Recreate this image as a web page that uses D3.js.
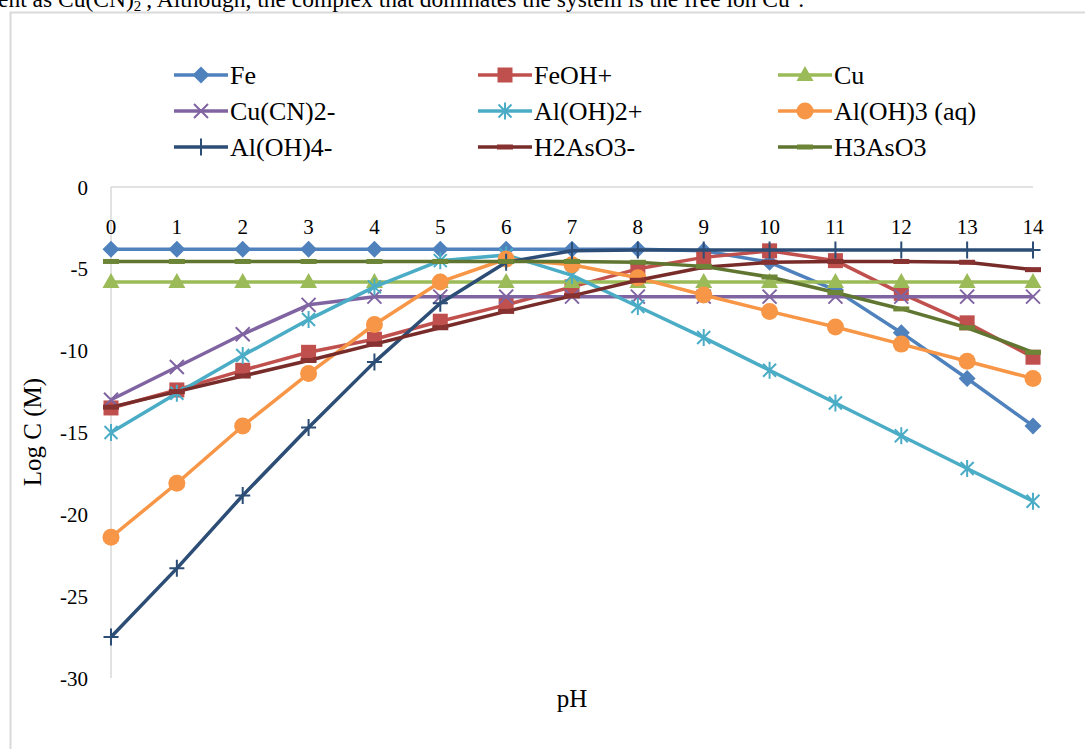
<!DOCTYPE html>
<html>
<head>
<meta charset="utf-8">
<script src="https://cdn.jsdelivr.net/npm/d3@7"></script>
<style>
  html, body { margin: 0; padding: 0; background: #fff; }
  svg { display: block; }
  text { font-family: "Liberation Serif", "Times New Roman", serif; fill: #000; }
</style>
</head>
<body>
<svg id="chart" width="1085" height="749"></svg>
<script>
// ---- data ----
const pH = [0, 1, 2, 3, 4, 5, 6, 7, 8, 9, 10, 11, 12, 13, 14];
const yTicks = [0, -5, -10, -15, -20, -25, -30];

const fe      = [-3.8, -3.8, -3.8, -3.8, -3.8, -3.8, -3.8, -3.8, -3.8, -3.9, -4.6, -6.3, -8.9, -11.7, -14.6];
const feOH    = [-13.5, -12.4, -11.2, -10.1, -9.3, -8.2, -7.2, -6.1, -5.0, -4.3, -3.9, -4.5, -6.5, -8.3, -10.4];
const cu      = [-5.8, -5.8, -5.8, -5.8, -5.8, -5.8, -5.8, -5.8, -5.8, -5.8, -5.8, -5.8, -5.8, -5.8, -5.8];
const cuCN2   = [-13.0, -11.0, -9.0, -7.2, -6.7, -6.7, -6.7, -6.7, -6.7, -6.7, -6.7, -6.7, -6.7, -6.7, -6.7];
const alOH2   = [-15.0, -12.6, -10.3, -8.1, -6.1, -4.5, -4.15, -5.4, -7.3, -9.2, -11.2, -13.2, -15.2, -17.2, -19.2];
const alOH3   = [-21.4, -18.1, -14.6, -11.4, -8.4, -5.8, -4.4, -4.75, -5.55, -6.6, -7.6, -8.55, -9.6, -10.65, -11.7];
const alOH4   = [-27.5, -23.3, -18.85, -14.7, -10.7, -7.1, -4.6, -3.9, -3.85, -3.85, -3.85, -3.85, -3.85, -3.85, -3.85];
const h2AsO3  = [-13.45, -12.5, -11.55, -10.6, -9.6, -8.6, -7.6, -6.65, -5.7, -4.9, -4.6, -4.55, -4.55, -4.6, -5.05];
const h3AsO3  = [-4.55, -4.55, -4.55, -4.55, -4.55, -4.55, -4.55, -4.55, -4.6, -4.85, -5.5, -6.45, -7.45, -8.6, -10.1];

const seriesNames  = ["Fe", "FeOH+", "Cu", "Cu(CN)2-", "Al(OH)2+", "Al(OH)3 (aq)", "Al(OH)4-", "H2AsO3-", "H3AsO3"];
const seriesValues = [fe, feOH, cu, cuCN2, alOH2, alOH3, alOH4, h2AsO3, h3AsO3];
const seriesColors = ["#4F81BD", "#C0504D", "#9BBB59", "#8064A2", "#4BACC6", "#F79646", "#2C4D75", "#772C2A", "#5F7530"];
const seriesMarkers = ["diamond", "square", "triangle", "x", "star", "circle", "plus", "dash", "dash"];

// ---- layout ----
const svg = d3.select("#chart");
const x = d3.scaleLinear().domain([0, 14]).range([111, 1033]);
const y = d3.scaleLinear().domain([-30, 0]).range([678, 187]);

// frame
svg.append("rect")
  .attr("x", 10.5).attr("y", 12.5).attr("width", 1100).attr("height", 800)
  .attr("fill", "none").attr("stroke", "#d9d9d9").attr("stroke-width", 2);

// top clipped text (continuation of the page text above the chart)
const topText = svg.append("text").attr("x", -2).attr("y", 7).style("font-size", "23.5px");
topText.append("tspan").text("ent as Cu(CN)");
topText.append("tspan").attr("dy", 4).style("font-size", "15px").text("2");
topText.append("tspan").attr("dy", -14).style("font-size", "15px").text("-");
topText.append("tspan").attr("dy", 10).text(", Although,  the complex that dominates the system is the free ion Cu");
topText.append("tspan").attr("dy", -10).style("font-size", "15px").text("+");
topText.append("tspan").attr("dy", 10).text(".");

// axes lines
svg.append("line")
  .attr("x1", x(0)).attr("x2", x(14)).attr("y1", y(0)).attr("y2", y(0))
  .attr("stroke", "#d9d9d9").attr("stroke-width", 1.5);
svg.append("line")
  .attr("x1", x(0)).attr("x2", x(0)).attr("y1", y(0)).attr("y2", y(-30))
  .attr("stroke", "#d9d9d9").attr("stroke-width", 1.5);

// y tick labels
svg.append("g").selectAll("text").data(yTicks).join("text")
  .attr("x", 88).attr("y", d => y(d)).attr("dy", "0.36em")
  .attr("text-anchor", "end").style("font-size", "21px")
  .text(d => d);

// x tick labels
svg.append("g").selectAll("text").data(pH).join("text")
  .attr("x", d => x(d)).attr("y", y(0) + 47)
  .attr("text-anchor", "middle").style("font-size", "21px")
  .text(d => d);

// axis titles
svg.append("text").attr("x", x(7)).attr("y", 707)
  .attr("text-anchor", "middle").style("font-size", "25px").text("pH");
svg.append("text").attr("transform", "translate(41," + 432 + ") rotate(-90)")
  .attr("text-anchor", "middle").style("font-size", "25px").text("Log C (M)");

// marker drawing
function drawMarker(g, type, color) {
  switch (type) {
    case "diamond":
      g.append("path").attr("d", "M0,-8.5L8.5,0L0,8.5L-8.5,0Z").attr("fill", color); break;
    case "square":
      g.append("rect").attr("x", -7.5).attr("y", -7.5).attr("width", 15).attr("height", 15).attr("fill", color); break;
    case "triangle":
      g.append("path").attr("d", "M0,-9L8.5,6L-8.5,6Z").attr("fill", color); break;
    case "x":
      g.append("path").attr("d", "M-7,-7L7,7M-7,7L7,-7").attr("stroke", color).attr("stroke-width", 2).attr("fill", "none"); break;
    case "star":
      g.append("path").attr("d", "M-6.5,-6.5L6.5,6.5M-6.5,6.5L6.5,-6.5M0,-8.5L0,8.5").attr("stroke", color).attr("stroke-width", 2).attr("fill", "none"); break;
    case "circle":
      g.append("circle").attr("r", 8.5).attr("fill", color); break;
    case "plus":
      g.append("path").attr("d", "M-7.5,0L7.5,0M0,-8.5L0,8.5").attr("stroke", color).attr("stroke-width", 2).attr("fill", "none"); break;
    case "dash":
      g.append("rect").attr("x", -8).attr("y", -2.5).attr("width", 16).attr("height", 5).attr("fill", d3.color(color).brighter(0.35)); break;
  }
}

// series
const line = d3.line().x((d, i) => x(pH[i])).y(d => y(d));
seriesValues.forEach((vals, si) => {
  const g = svg.append("g");
  g.append("path").datum(vals).attr("d", line)
    .attr("fill", "none").attr("stroke", seriesColors[si]).attr("stroke-width", 3.5)
    .attr("stroke-linejoin", "round");
  vals.forEach((v, i) => {
    const mg = g.append("g").attr("transform", `translate(${x(pH[i])},${y(v)})`);
    drawMarker(mg, seriesMarkers[si], seriesColors[si]);
  });
});

// legend
const legCols = [174, 478, 778];
const legRows = [75, 111, 147];
seriesNames.forEach((name, si) => {
  const lx = legCols[si % 3], ly = legRows[Math.floor(si / 3)];
  const g = svg.append("g");
  g.append("line").attr("x1", lx).attr("x2", lx + 54).attr("y1", ly).attr("y2", ly)
    .attr("stroke", seriesColors[si]).attr("stroke-width", 3.5);
  const mg = g.append("g").attr("transform", `translate(${lx + 27},${ly})`);
  drawMarker(mg, seriesMarkers[si], seriesColors[si]);
  g.append("text").attr("x", lx + 56).attr("y", ly).attr("dy", "0.35em")
    .style("font-size", "26px").text(name);
});
</script>
</body>
</html>
